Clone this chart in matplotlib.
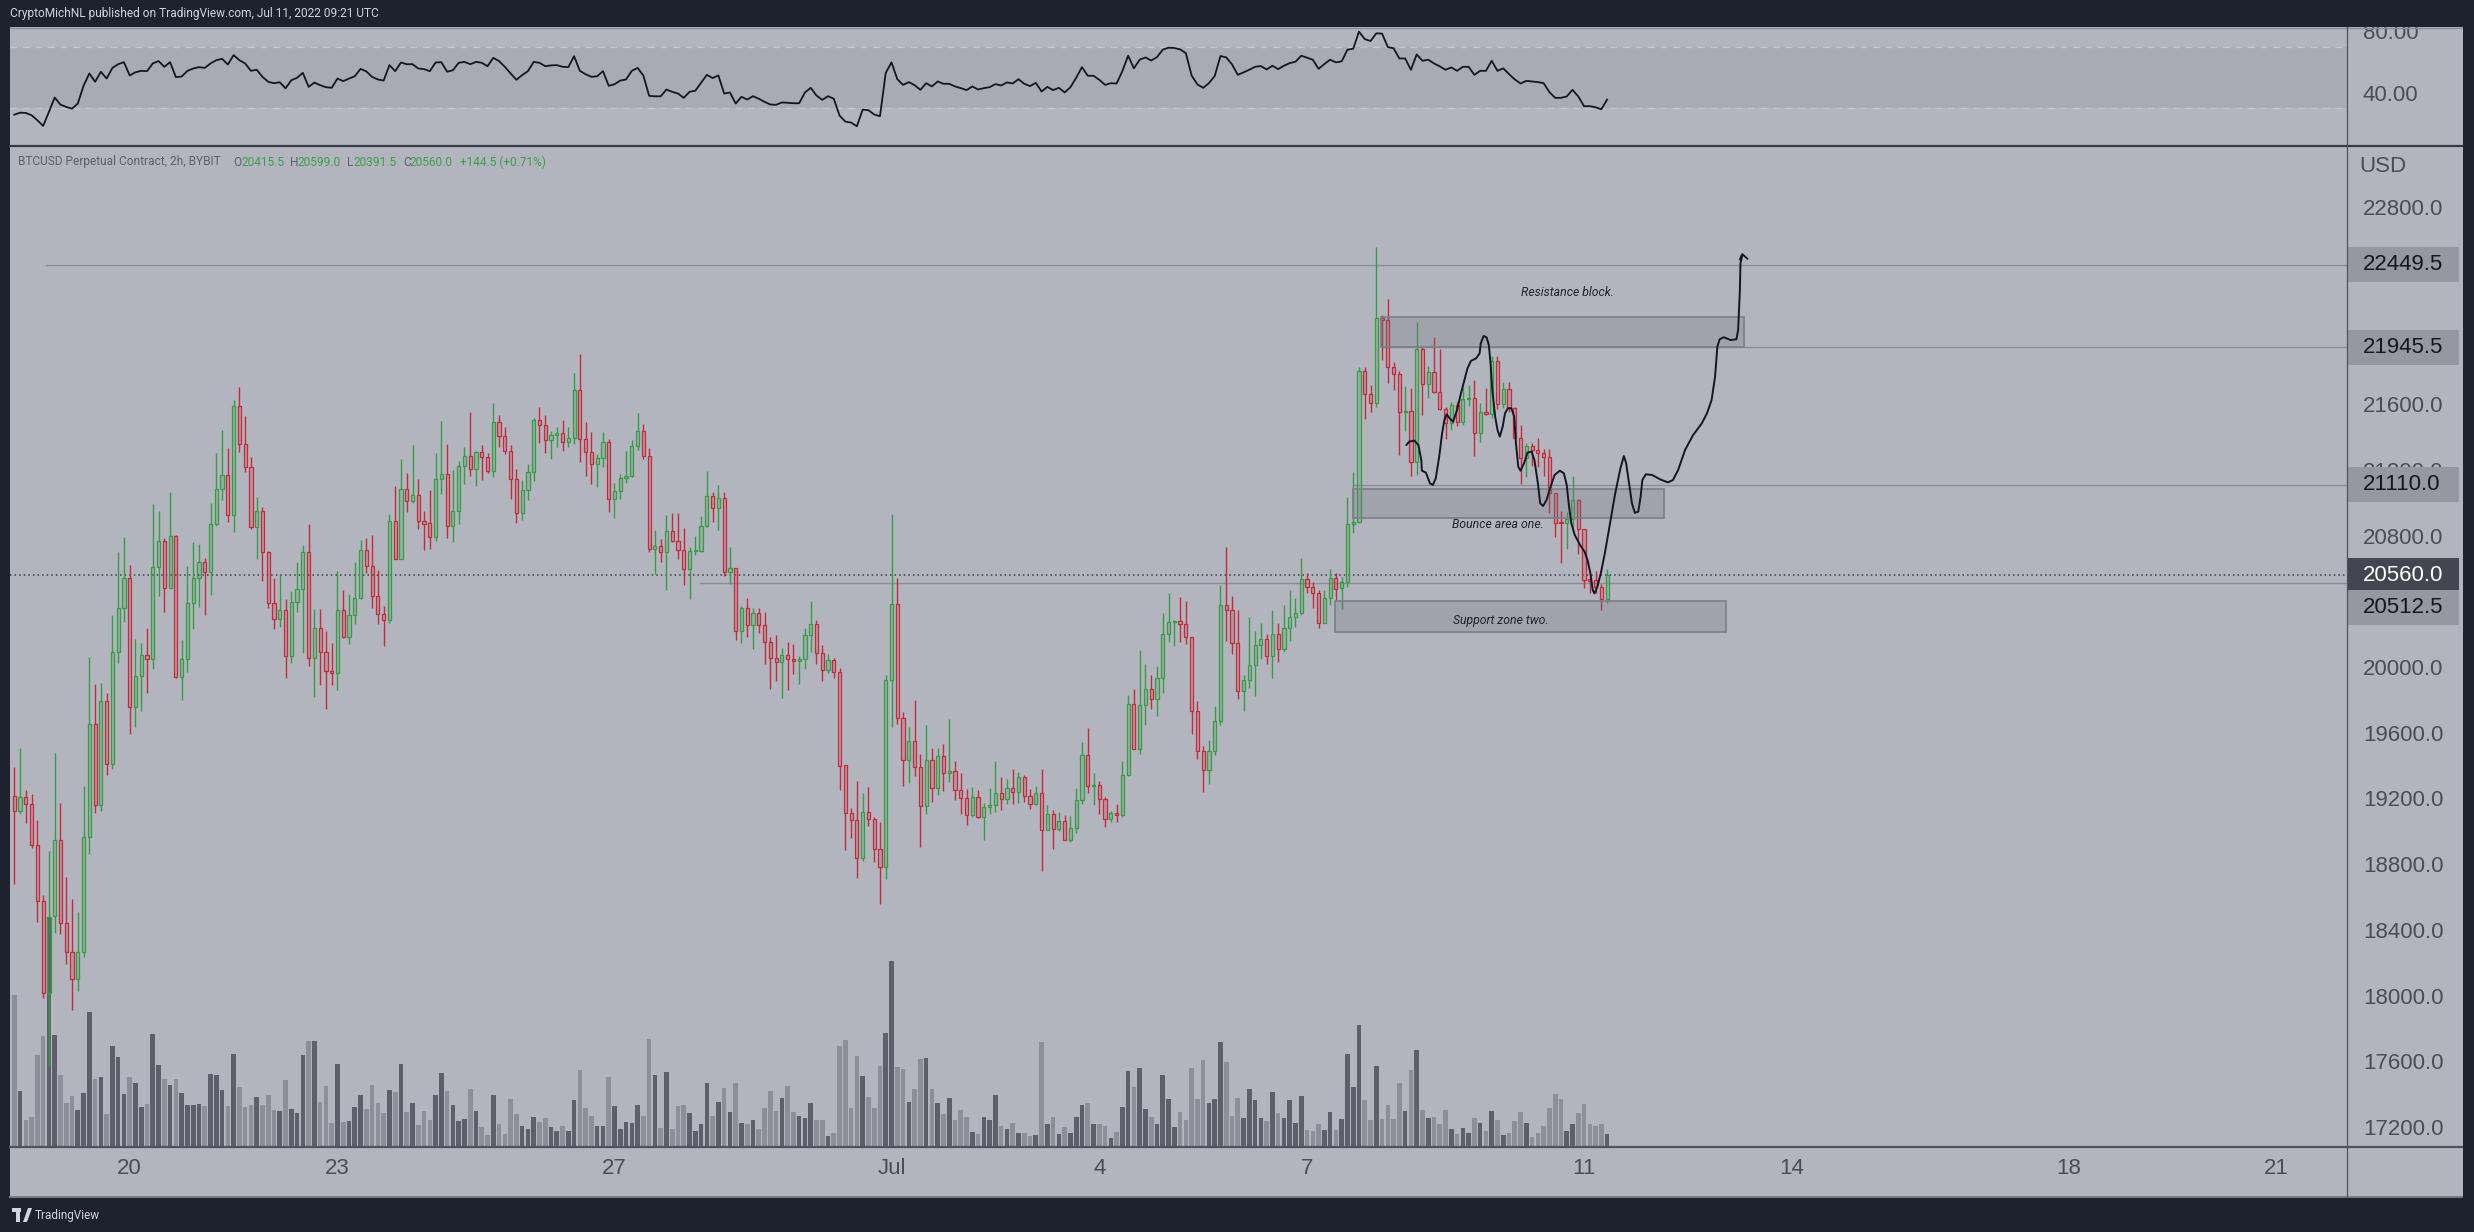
import numpy as np
import pandas as pd
import matplotlib
matplotlib.use('Agg')
import matplotlib.pyplot as plt
import matplotlib.colors as mcolors
import matplotlib.transforms as mtransforms
from matplotlib.patches import Rectangle, Polygon
from matplotlib.lines import Line2D

# ---------------- data (BTCUSD perpetual, 2h candles from 2022-06-18 08:00 UTC) ----------------
start_time = '2022-06-18 08:00'
opens = [
19214, 19126, 19209, 19166, 18914, 18579, 18018, 18483, 18947, 18445,
18268, 18099, 18268, 18965, 19651, 19159, 19795, 19409, 20090, 20357,
20541, 19759, 19946, 20072, 20047, 20607, 20766, 20483, 20796, 19941,
20047, 20388, 20541, 20640, 20577, 20869, 21086, 21167, 20927, 21586,
21359, 21220, 20854, 20948, 20698, 20388, 20292, 20345, 20067, 20393,
20473, 20698, 20055, 20236, 20090, 19974, 19961, 20345, 20181, 20314,
20423, 20710, 20612, 20430, 20322, 20289, 20887, 20660, 21081, 21013,
21044, 20887, 20877, 20793, 21142, 21173, 20860, 20948, 21221, 21282,
21207, 21307, 21276, 21195, 21489, 21408, 21313, 21142, 20939, 21075,
21185, 21502, 21471, 21380, 21410, 21422, 21372, 21392, 21684, 21386,
21307, 21238, 21270, 21368, 21025, 21069, 21149, 21161, 21343, 21435,
21282, 20716, 20735, 20698, 20826, 20769, 20710, 20595, 20704, 20708,
20856, 21039, 20966, 21027, 20576, 20601, 20217, 20357, 20253, 20327,
20253, 20150, 20053, 20028, 20071, 20047, 20039, 20047, 20193, 20260,
20083, 19980, 20041, 19968, 19402, 19110, 19067, 18836, 19116, 19073,
18891, 18785, 19919, 20382, 19688, 19432, 19548, 19390, 19152, 19432,
19262, 19457, 19353, 19365, 19250, 19201, 19098, 19207, 19090, 19146,
19158, 19231, 19195, 19262, 19237, 19331, 19213, 19164, 19231, 19006,
19104, 19012, 19061, 18945, 19018, 19189, 19463, 19274, 19280, 19195,
19073, 19110, 19098, 19341, 19775, 19499, 19767, 19865, 19804, 19932,
20199, 20272, 20279, 20260, 20183, 19731, 19487, 19372, 19487, 19670,
20376, 20346, 20145, 19852, 19921, 20011, 20132, 20169, 20069, 20199,
20112, 20236, 20303, 20327, 20534, 20485, 20452, 20270, 20418, 20540,
20479, 20515, 20870, 20885, 21802, 21660, 21605, 22122, 22110, 21824,
21781, 21550, 21556, 21250, 21934, 21725, 21794, 21676, 21570, 21487,
21593, 21489, 21631, 21635, 21422, 21552, 21538, 21863, 21603, 21692,
21574, 21392, 21274, 21345, 21321, 21305, 21280, 21057, 20883, 20875,
20901, 21017, 20838, 20530, 20530, 20485, 20415.5]
highs = [
19391, 19507, 19252, 19227, 19068, 18614, 18881, 19477, 19171, 18725,
18589, 18510, 19275, 20062, 19898, 19903, 19843, 20317, 20700, 20791,
20622, 20171, 20145, 20239, 20993, 20950, 20786, 21066, 20804, 20166,
20615, 20761, 20748, 20663, 20998, 21303, 21442, 21334, 21626, 21705,
21528, 21278, 21036, 20975, 20705, 20541, 20564, 20415, 20463, 20640,
20743, 20872, 20352, 20352, 20219, 20145, 20582, 20468, 20446, 20640,
20774, 20786, 20804, 20592, 20372, 20933, 21102, 21266, 21182, 21351,
21144, 20950, 21078, 21303, 21498, 21357, 21199, 21254, 21339, 21552,
21315, 21349, 21301, 21607, 21534, 21459, 21349, 21205, 21138, 21234,
21514, 21583, 21534, 21435, 21459, 21504, 21459, 21790, 21905, 21489,
21429, 21296, 21429, 21388, 21118, 21173, 21315, 21382, 21546, 21479,
21333, 20834, 20777, 20925, 20937, 20937, 20846, 20730, 20797, 20919,
21193, 21065, 21108, 21065, 20730, 20601, 20371, 20420, 20357, 20357,
20335, 20183, 20195, 20116, 20150, 20140, 20067, 20235, 20402, 20286,
20134, 20079, 20055, 19994, 19402, 19142, 19307, 19234, 19270, 19085,
19057, 19952, 20932, 20542, 19726, 19635, 19800, 19471, 19648, 19507,
19507, 19532, 19684, 19428, 19355, 19258, 19270, 19252, 19171, 19264,
19428, 19331, 19318, 19379, 19361, 19343, 19258, 19276, 19379, 19160,
19128, 19118, 19098, 19093, 19264, 19542, 19629, 19355, 19307, 19209,
19124, 19164, 19428, 19830, 19866, 20104, 20019, 19952, 20007, 20329,
20451, 20287, 20427, 20402, 20183, 19796, 19520, 19556, 19763, 20500,
20731, 20433, 20348, 19952, 20307, 20219, 20268, 20201, 20347, 20266,
20376, 20469, 20421, 20661, 20574, 20519, 20468, 20468, 20594, 20574,
20550, 21037, 21189, 21828, 21828, 21717, 22559, 22143, 22240, 21857,
21804, 21712, 21696, 22102, 21950, 21832, 22011, 21934, 21585, 21613,
21611, 21696, 21717, 21747, 21605, 21696, 21893, 21893, 21737, 21737,
21585, 21473, 21361, 21361, 21396, 21325, 21325, 21057, 20952, 20946,
21163, 21021, 20840, 20540, 20584, 20505, 20599]
lows = [
18679, 19103, 19053, 18901, 18447, 17986, 17572, 18384, 18377, 18195,
17915, 18029, 18238, 18861, 19113, 19121, 19346, 19381, 20022, 20277,
19595, 19638, 19734, 19845, 19991, 20433, 20332, 20478, 19936, 19797,
19971, 20234, 20367, 20314, 20441, 20860, 21018, 20885, 20824, 21311,
21185, 20842, 20655, 20521, 20362, 20234, 20246, 19936, 20022, 20332,
20087, 20009, 19820, 19893, 19742, 19893, 19858, 20175, 20143, 20264,
20415, 20572, 20362, 20259, 20130, 20271, 20655, 20655, 20945, 20996,
20842, 20712, 20718, 20769, 21053, 20785, 20763, 20873, 21114, 21163,
21104, 21138, 21181, 21157, 21339, 21297, 21023, 20877, 20895, 21017,
21132, 21364, 21303, 21266, 21339, 21315, 21339, 21357, 21248, 21163,
21114, 21096, 21218, 20944, 20907, 21023, 21120, 21155, 21321, 21268,
20700, 20564, 20639, 20469, 20763, 20657, 20499, 20414, 20682, 20700,
20850, 20883, 20834, 20556, 20505, 20164, 20146, 20183, 20110, 20207,
20018, 19866, 19915, 19811, 19860, 19958, 19897, 19988, 20092, 20018,
19915, 19964, 19936, 19252, 18889, 18962, 18718, 18822, 19035, 18815,
18560, 18712, 19637, 19655, 19278, 19296, 19339, 18907, 19104, 19181,
19219, 19248, 19302, 19193, 19108, 19041, 19090, 19083, 18950, 19108,
19120, 19132, 19164, 19168, 19174, 19176, 19138, 19158, 18760, 19006,
18894, 19004, 18945, 18937, 18992, 19164, 19235, 19160, 19108, 19028,
19055, 19055, 19090, 19339, 19499, 19473, 19650, 19747, 19704, 19844,
20153, 20130, 20155, 20143, 19595, 19443, 19242, 19290, 19463, 19650,
20161, 20082, 19808, 19735, 19875, 19826, 20051, 20021, 19935, 20033,
20092, 20161, 20246, 20316, 20448, 20361, 20235, 20266, 20377, 20404,
20351, 20485, 20818, 20879, 21510, 21554, 21581, 21869, 21731, 21686,
21290, 21437, 21163, 21169, 21534, 21635, 21666, 21564, 21386, 21443,
21467, 21473, 21589, 21286, 21372, 21532, 21518, 21570, 21574, 21554,
21386, 21116, 21154, 21223, 21219, 21163, 20935, 20793, 20635, 20716,
20844, 20688, 20479, 20448, 20448, 20347, 20391.5]
closes = [
19126, 19209, 19166, 18914, 18579, 18018, 18478, 18947, 18445, 18268,
18099, 18268, 18965, 19651, 19159, 19795, 19409, 20090, 20357, 20541,
19759, 19946, 20072, 20047, 20607, 20766, 20483, 20796, 19941, 20047,
20388, 20541, 20640, 20577, 20869, 21086, 21167, 20927, 21586, 21359,
21220, 20854, 20948, 20698, 20388, 20292, 20345, 20067, 20393, 20473,
20698, 20055, 20236, 20090, 19974, 19961, 20345, 20181, 20314, 20423,
20710, 20612, 20430, 20322, 20289, 20887, 20660, 21081, 21013, 21044,
20887, 20873, 20793, 21142, 21173, 20860, 20948, 21221, 21282, 21207,
21307, 21276, 21195, 21489, 21408, 21313, 21142, 20939, 21075, 21185,
21502, 21471, 21380, 21410, 21422, 21372, 21392, 21684, 21386, 21307,
21238, 21270, 21368, 21025, 21069, 21149, 21161, 21343, 21435, 21282,
20716, 20735, 20698, 20826, 20769, 20710, 20595, 20704, 20712, 20856,
21039, 20966, 21027, 20576, 20601, 20217, 20357, 20253, 20327, 20253,
20150, 20053, 20028, 20071, 20047, 20039, 20047, 20193, 20260, 20083,
19980, 20041, 19968, 19400, 19110, 19067, 18836, 19116, 19073, 18891,
18785, 19919, 20382, 19688, 19432, 19548, 19390, 19152, 19432, 19262,
19457, 19353, 19365, 19250, 19201, 19098, 19207, 19090, 19146, 19158,
19231, 19195, 19262, 19237, 19331, 19213, 19164, 19231, 19006, 19104,
19012, 19061, 18945, 19018, 19189, 19463, 19274, 19280, 19195, 19073,
19110, 19098, 19341, 19775, 19499, 19767, 19865, 19804, 19932, 20199,
20272, 20279, 20260, 20181, 19731, 19487, 19372, 19487, 19670, 20376,
20346, 20145, 19852, 19921, 20011, 20132, 20169, 20069, 20199, 20112,
20236, 20303, 20327, 20534, 20485, 20452, 20270, 20418, 20540, 20475,
20519, 20870, 20885, 21802, 21660, 21605, 22122, 22110, 21824, 21781,
21550, 21556, 21250, 21934, 21725, 21794, 21676, 21570, 21487, 21593,
21489, 21631, 21635, 21422, 21552, 21538, 21863, 21603, 21692, 21574,
21392, 21274, 21345, 21321, 21305, 21280, 21057, 20879, 20875, 20901,
21017, 20838, 20528, 20526, 20485, 20415.5, 20560]
# volume (relative units, as read from the overlay)
volume = [
456, 168, 81, 90, 276, 333, 690, 336, 216, 132,
153, 111, 162, 405, 204, 210, 99, 303, 270, 159,
210, 192, 120, 129, 339, 246, 204, 186, 204, 162,
126, 126, 129, 123, 219, 216, 171, 123, 279, 180,
120, 126, 150, 126, 156, 111, 108, 201, 114, 102,
276, 318, 318, 135, 183, 72, 249, 75, 78, 120,
156, 114, 186, 132, 102, 171, 165, 249, 105, 132,
66, 108, 81, 156, 222, 168, 126, 78, 84, 174,
108, 60, 36, 156, 69, 39, 144, 99, 63, 54,
90, 75, 87, 60, 48, 63, 48, 141, 231, 117,
93, 63, 63, 210, 123, 54, 75, 72, 126, 93,
324, 216, 57, 225, 54, 123, 126, 102, 48, 69,
192, 93, 135, 177, 105, 192, 72, 69, 81, 54,
117, 168, 108, 147, 183, 105, 93, 87, 132, 81,
81, 33, 42, 303, 321, 117, 273, 213, 150, 117,
243, 342, 558, 240, 234, 135, 174, 264, 267, 174,
132, 99, 147, 81, 111, 90, 45, 39, 90, 81,
156, 63, 54, 72, 42, 42, 33, 36, 315, 69,
90, 39, 60, 42, 90, 126, 132, 69, 69, 63,
27, 45, 120, 228, 180, 237, 114, 90, 69, 216,
144, 60, 105, 81, 237, 144, 261, 132, 144, 315,
255, 93, 147, 87, 174, 141, 87, 78, 165, 102,
87, 141, 72, 153, 51, 48, 69, 51, 105, 51,
84, 279, 180, 366, 141, 81, 243, 84, 126, 84,
192, 108, 231, 291, 111, 87, 90, 69, 111, 54,
39, 57, 42, 87, 72, 48, 108, 81, 36, 42,
78, 105, 72, 30, 42, 63, 117, 159, 144, 48,
69, 102, 129, 69, 63, 69, 39]
rsi = [
26.0, 27.3, 27.1, 25.6, 22.4, 18.7, 27.8, 37.1, 32.5, 31.0,
29.9, 33.2, 44.7, 52.7, 47.3, 53.8, 49.4, 56.3, 58.7, 60.0,
51.4, 53.5, 54.4, 54.2, 59.2, 60.7, 57.0, 60.0, 50.3, 50.7,
54.4, 55.9, 56.8, 56.3, 59.2, 61.3, 62.2, 58.5, 64.6, 61.3,
59.2, 54.4, 55.1, 50.5, 47.3, 46.4, 47.0, 43.1, 48.3, 49.9,
53.1, 44.0, 46.8, 45.1, 43.8, 43.4, 49.4, 47.7, 49.4, 50.9,
55.7, 54.0, 50.5, 48.8, 48.1, 58.1, 54.2, 59.8, 58.7, 58.7,
55.9, 55.5, 54.2, 59.8, 60.0, 53.8, 54.8, 59.6, 60.2, 58.7,
60.2, 59.6, 57.4, 62.8, 60.7, 57.0, 52.7, 48.6, 51.6, 54.2,
60.2, 59.6, 57.4, 57.9, 58.1, 57.0, 56.8, 63.9, 54.4, 52.2,
50.5, 50.9, 54.2, 44.7, 45.7, 48.1, 48.8, 54.4, 56.3, 51.4,
38.2, 37.9, 37.9, 42.3, 40.8, 39.7, 36.9, 40.8, 41.5, 46.6,
51.8, 49.7, 51.4, 39.7, 40.4, 33.2, 37.6, 35.8, 38.0, 36.3,
34.3, 32.6, 32.4, 33.9, 33.7, 33.4, 33.4, 40.4, 43.4, 38.4,
35.6, 38.0, 36.3, 25.4, 21.5, 20.9, 18.5, 29.3, 28.9, 26.1,
25.0, 53.1, 59.9, 49.0, 45.3, 47.1, 45.1, 42.1, 46.4, 44.3,
47.5, 46.0, 46.0, 44.3, 43.2, 41.9, 44.3, 42.3, 43.2, 43.8,
45.8, 44.9, 46.9, 46.2, 49.0, 46.0, 44.5, 46.6, 41.0, 44.0,
41.9, 43.4, 40.4, 43.8, 49.9, 56.8, 51.2, 51.2, 48.6, 45.3,
46.4, 46.2, 54.2, 64.2, 56.0, 61.6, 63.1, 61.1, 63.3, 68.1,
69.4, 69.2, 68.3, 65.9, 51.4, 45.6, 43.4, 46.4, 51.0, 64.0,
63.1, 58.6, 51.8, 53.4, 55.1, 57.0, 57.5, 55.3, 57.7, 55.5,
57.7, 59.4, 60.3, 64.2, 62.9, 61.6, 55.7, 58.8, 61.6, 59.9,
60.5, 68.1, 68.7, 79.8, 75.0, 73.7, 78.7, 78.5, 69.8, 69.0,
62.4, 62.4, 55.1, 65.0, 60.9, 61.6, 59.2, 57.3, 55.1, 56.6,
54.4, 57.0, 57.0, 51.8, 54.4, 54.4, 60.9, 54.4, 56.0, 52.3,
48.8, 46.2, 47.9, 47.5, 47.1, 46.4, 40.6, 36.9, 36.9, 37.8,
42.1, 37.8, 31.5, 31.5, 30.8, 29.5, 35.8]

tick_dates = ['2022-06-20', '2022-06-23', '2022-06-27', '2022-07-01', '2022-07-04',
              '2022-07-07', '2022-07-11', '2022-07-14', '2022-07-18', '2022-07-21']
tick_labels = ['20', '23', '27', 'Jul', '4', '7', '11', '14', '18', '21']
price_ticks = [17200, 17600, 18000, 18400, 18800, 19200, 19600, 20000,
               20800, 21200, 21600, 22000, 22800]
rsi_ticks = [40, 80]

# drawings (x in candle units from the first bar, y in USD)
zone_names = ['Resistance block.', 'Bounce area one.', 'Support zone two.']
zone_x0 = [236.8, 231.9, 228.8]
zone_x1 = [299.8, 285.8, 296.6]
zone_lo = [21950, 20905, 20212]
zone_hi = [22129, 21082, 20402]
zone_text_x = [269.1, 257.1, 257.5]
zone_text_y = [22278, 20865, 20282]
level_prices = [22449.5, 21945.5, 21110.0, 20512.5]
level_start = [5.5, 236.8, 231.9, 118.8]
path_x = [241.2, 241.7, 242.6, 243.3, 243.8, 243.9, 244.6, 245.3, 245.8, 246.3, 246.9, 247.4,
          247.8, 248.2, 248.7, 249.3, 250.0, 250.6, 251.2, 251.8, 252.4, 253.3, 253.9, 254.1,
          254.6, 255.1, 255.5, 255.8, 256.1, 256.6, 257.0, 257.4, 257.9, 258.3, 258.8, 259.4,
          259.9, 260.2, 260.6, 261.0, 261.6, 262.2, 262.9, 263.4, 264.0, 264.4, 264.9, 265.5,
          266.2, 266.9, 267.8, 268.5, 269.0, 269.4, 269.8, 270.4, 271.3, 272.1, 272.6, 273.1,
          273.5, 273.8, 274.3, 274.9, 275.6, 276.4, 277.4, 278.3, 278.9, 279.3, 279.8, 280.3,
          280.8, 281.4, 281.8, 282.1, 282.7, 283.8, 285.2, 286.5, 287.4, 288.3, 289.5, 290.9,
          292.4, 293.3, 294.1, 294.7, 295.1, 295.5, 296.2, 297.4, 298.4, 298.7, 299.0, 299.1, 299.4]
path_y = [21351, 21372, 21378, 21351, 21260, 21195, 21183, 21118, 21108, 21148, 21280, 21422,
          21503, 21538, 21514, 21493, 21564, 21656, 21737, 21818, 21863, 21879, 21909, 21970,
          22015, 22007, 21960, 21848, 21686, 21524, 21443, 21402, 21463, 21544, 21575, 21575,
          21524, 21361, 21219, 21195, 21240, 21305, 21311, 21260, 21118, 20996, 20980, 21017,
          21098, 21169, 21195, 21179, 21108, 20976, 20874, 20803, 20743, 20702, 20651, 20570,
          20469, 20448, 20489, 20570, 20692, 20854, 21057, 21209, 21284, 21240, 21118, 20996,
          20939, 20946, 21037, 21138, 21173, 21169, 21142, 21124, 21138, 21199, 21321, 21412,
          21483, 21544, 21625, 21767, 21950, 21995, 22007, 21990, 21995, 22051, 22295, 22457, 22502]
arrow_x = [299.0, 299.4, 300.3]
arrow_y = [22481, 22514, 22485]

# ---------------- style ----------------
W, H = 2474, 1232
BG = '#b2b5be'
DARK = '#1e222d'
UP = '#369c44'
DOWN = '#c62a3a'
VOL_UP = '#5d606b'
VOL_DN = '#8c8f98'
AXTXT = '#4a4d57'
LEGEND_GREY = '#5d606b'
LEGEND_GREEN = '#3d9e4a'

fig = plt.figure(figsize=(W / 100, H / 100), dpi=100)
fig.patch.set_facecolor(DARK)


def fx(px):
    return px / W


def fy(py):
    return 1 - py / H


fig.add_artist(Rectangle((fx(10), fy(1197)), fx(2463) - fx(10), fy(27) - fy(1197),
                         transform=fig.transFigure, facecolor=BG, edgecolor='none', zorder=-10))

x0_ax, x1_ax = 10, 2347
ax_rsi = fig.add_axes([fx(x0_ax), fy(146), (x1_ax - x0_ax) / W, (146 - 27) / H])
axv = fig.add_axes([fx(x0_ax), fy(1147), (x1_ax - x0_ax) / W, (1147 - 146) / H], zorder=1)
ax = fig.add_axes([fx(x0_ax), fy(1147), (x1_ax - x0_ax) / W, (1147 - 146) / H], zorder=2)
for a in (ax_rsi, axv, ax):
    a.set_facecolor('none')
    for s in a.spines.values():
        s.set_visible(False)

n = len(closes)
xs = np.arange(n)
start = pd.Timestamp(start_time)
step = pd.Timedelta(hours=2)
XL = (-0.745, 404.2)

o = np.array(opens, dtype=float)
hi = np.array(highs, dtype=float)
lo = np.array(lows, dtype=float)
c = np.array(closes, dtype=float)
up = c >= o
top = np.maximum(o, c)
bot = np.minimum(o, c)
cols = np.where(up, UP, DOWN)

# ---------------- RSI pane ----------------
ax_rsi.set_xlim(*XL)
ax_rsi.set_ylim(5.7, 82.8)
ax_rsi.axhspan(30, 70, color='#a8abb4', lw=0, zorder=0)
ax_rsi.axhline(70, color='#c4c6cc', lw=1.0, ls=(0, (5, 4)), zorder=1)
ax_rsi.axhline(30, color='#c4c6cc', lw=1.0, ls=(0, (5, 4)), zorder=1)
ax_rsi.plot(xs, rsi, color='#131722', lw=1.3, zorder=3)
ax_rsi.set_xticks([])
ax_rsi.yaxis.tick_right()
ax_rsi.set_yticks(rsi_ticks)
ax_rsi.set_yticklabels([f'{v:.2f}' for v in rsi_ticks])
ax_rsi.tick_params(axis='y', length=0, pad=11.5, labelsize=16, labelcolor=AXTXT)
for t in ax_rsi.get_yticklabels():
    t.set_family('Liberation Sans')

# ---------------- volume ----------------
axv.set_xlim(*XL)
axv.set_ylim(0, 3003)
axv.bar(xs, volume, width=0.8, color=np.where(up, VOL_UP, VOL_DN), linewidth=0, zorder=1)
axv.set_xticks([])
axv.set_yticks([])

# ---------------- candles ----------------
ax.set_xlim(*XL)
ax.set_ylim(17079, 23171)
ax.vlines(xs, top, hi, colors=cols, lw=1.0, zorder=3)
ax.vlines(xs, lo, bot, colors=cols, lw=1.0, zorder=3)
face = [mcolors.to_rgba(cc, 0.22) for cc in cols]
ax.bar(xs, np.maximum(top - bot, 8), bottom=bot, width=0.55, color=face,
       edgecolor=cols, linewidth=0.9, zorder=4)

# level lines and current price
for p, s in zip(level_prices, level_start):
    ax.plot([s, XL[1]], [p, p], color='#8a8d96', lw=1.0, zorder=2)
ax.axhline(closes[-1], color='#3a3d47', lw=1.1, ls=(0, (1, 2)), zorder=2)

# zones
for name, a0, a1, zl, zh, tx, ty in zip(zone_names, zone_x0, zone_x1, zone_lo, zone_hi,
                                         zone_text_x, zone_text_y):
    ax.add_patch(Rectangle((a0, zl), a1 - a0, zh - zl, facecolor=mcolors.to_rgba('#70737e', 0.27),
                           edgecolor='#7b7e88', lw=1.2, zorder=5))
    ax.text(tx, ty, name, ha='center', va='center', fontsize=8.8, style='italic',
            family='Roboto', color='#1f232d', zorder=6)

# projection path
ax.plot(path_x, path_y, color='#131722', lw=1.4, zorder=7, solid_capstyle='round')
ax.plot(arrow_x, arrow_y, color='#131722', lw=1.3, zorder=7)

# x axis ticks (dates)
tick_pos = [(pd.Timestamp(d) - start) / step for d in tick_dates]
ax.set_xticks(tick_pos)
ax.set_xticklabels(tick_labels)
ax.tick_params(axis='x', length=0, pad=8, labelsize=16, labelcolor=AXTXT)

# y axis ticks (right)
ax.yaxis.tick_right()
ax.set_yticks(price_ticks)
ax.set_yticklabels([f'{v:.1f}' for v in price_ticks])
ax.tick_params(axis='y', length=0, pad=11.5, labelsize=16, labelcolor=AXTXT)
for t in ax.get_yticklabels() + ax.get_xticklabels():
    t.set_family('Liberation Sans')

# price label boxes on the right scale
blend = mtransforms.blended_transform_factory(ax.transAxes, ax.transData)
bx0 = (2348 - x0_ax) / (x1_ax - x0_ax)
bx1 = (2459 - x0_ax) / (x1_ax - x0_ax)
tx0 = (2363 - x0_ax) / (x1_ax - x0_ax)
half = 17.5 * 6.086
box_labels = ['22449.5', '21945.5', '21110.0', f'{closes[-1]:.1f}', '20512.5']
box_centers = [22449.5, 21945.5, 21110.0, closes[-1], 20360]
box_fc = ['#9598a1', '#9598a1', '#9598a1', '#434651', '#9598a1']
box_tc = ['#131722', '#131722', '#131722', '#ffffff', '#131722']
for lab, yc, fc, tc in zip(box_labels, box_centers, box_fc, box_tc):
    ax.add_patch(Rectangle((bx0, yc - half), bx1 - bx0, 2 * half, transform=blend,
                           facecolor=fc, edgecolor='none', clip_on=False, zorder=8))
    ax.text(tx0, yc, lab, transform=blend, ha='left', va='center', fontsize=16,
            family='Liberation Sans', color=tc, clip_on=False, zorder=9)

# ---------------- frame lines ----------------
def fline(xa, ya, xb, yb, color, lw):
    fig.add_artist(Line2D([fx(xa), fx(xb)], [fy(ya), fy(yb)], transform=fig.transFigure,
                          color=color, lw=lw, zorder=5))

fline(10, 27.5, 2463, 27.5, '#8a8d96', 1.0)
fline(10, 146, 2463, 146, '#363a45', 1.6)
fline(10, 1147, 2463, 1147, '#50535e', 1.6)
fline(10, 1197, 2463, 1197, '#787b86', 1.4)
fline(2347, 27, 2347, 1197, '#50535e', 0.9)

# dark top / side bars (cover overflow)
fig.add_artist(Rectangle((0, fy(27)), 1, 27 / H, transform=fig.transFigure,
                         facecolor=DARK, edgecolor='none', zorder=10))
fig.add_artist(Rectangle((fx(2463), 0), 1 - fx(2463), 1, transform=fig.transFigure,
                         facecolor=DARK, edgecolor='none', zorder=10))

# header
fig.text(fx(10), fy(14), 'CryptoMichNL published on TradingView.com, Jul 11, 2022 09:21 UTC',
         color='#d1d4dc', fontsize=8.55, family='Roboto', va='center', ha='left', zorder=11)

# legend line
chg = closes[-1] - closes[-2]
leg_items = [('BTCUSD Perpetual Contract, 2h, BYBIT', 18, LEGEND_GREY),
             ('O', 233, LEGEND_GREY), (f'{opens[-1]:.1f}', 241, LEGEND_GREEN),
             ('H', 290, LEGEND_GREY), (f'{highs[-1]:.1f}', 298, LEGEND_GREEN),
             ('L', 347, LEGEND_GREY), (f'{lows[-1]:.1f}', 354, LEGEND_GREEN),
             ('C', 403, LEGEND_GREY), (f'{closes[-1]:.1f}', 410, LEGEND_GREEN),
             (f'{chg:+.1f} ({chg / closes[-2] * 100:+.2f}%)', 460, LEGEND_GREEN)]
for txt, px, colr in leg_items:
    fig.text(fx(px), fy(162), txt, color=colr, fontsize=8.6, family='Roboto',
             va='center', ha='left', zorder=11)

# USD label
fig.text(fx(2359), fy(166), 'USD', color=AXTXT, fontsize=16, family='Liberation Sans',
         va='center', ha='left', zorder=11)

# TradingView mark
fig.add_artist(Rectangle((fx(12), fy(1212)), 9 / W, 4 / H, transform=fig.transFigure,
                         facecolor='#d1d4dc', edgecolor='none', zorder=11))
fig.add_artist(Rectangle((fx(16), fy(1222)), 4 / W, 10 / H, transform=fig.transFigure,
                         facecolor='#d1d4dc', edgecolor='none', zorder=11))
fig.add_artist(Polygon([[fx(23), fy(1222)], [fx(28), fy(1208)], [fx(32), fy(1208)], [fx(27), fy(1222)]],
                       closed=True, transform=fig.transFigure, facecolor='#d1d4dc',
                       edgecolor='none', zorder=11))
fig.text(fx(35), fy(1215), 'TradingView', color='#d1d4dc', fontsize=8.5, family='Roboto',
         va='center', ha='left', zorder=11)

fig.savefig('out.png', dpi=100, facecolor=DARK)
